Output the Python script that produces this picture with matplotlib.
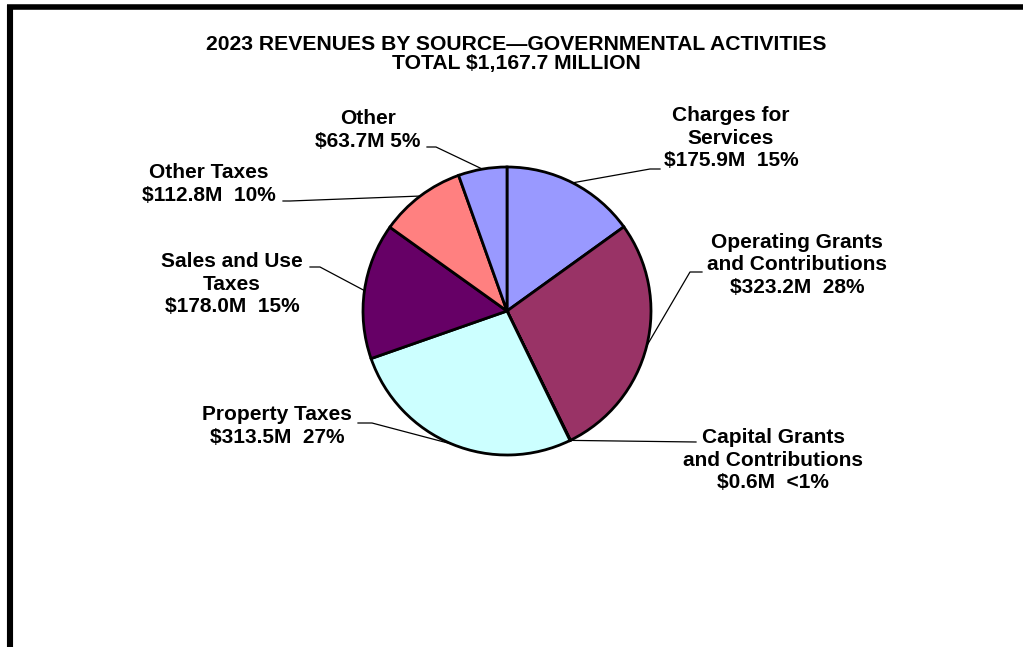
"""Revenues by source, governmental activities, 2023 — pie with leader labels."""
import matplotlib
matplotlib.use("Agg")
import matplotlib.pyplot as plt
import numpy as np

W, H = 1023, 647                      # canvas in pixels; axes units == pixels

SOURCES = ["Charges for\nServices", "Operating Grants\nand Contributions",
           "Capital Grants\nand Contributions", "Property Taxes",
           "Sales and Use\nTaxes", "Other Taxes", "Other"]
AMOUNTS = [175.9, 323.2, 0.6, 313.5, 178.0, 112.8, 63.7]    # $ millions
COLORS = ["#9999FF", "#993366", "#FFFFCC", "#CCFFFF",
          "#660066", "#FF8080", "#9999FF"]
GAP = ["  ", "  ", "  ", "  ", "  ", "  ", " "]              # spacing before the %

# label block centre, elbow point of the leader, end of the short tick
LABEL_XY = [(731, 138), (797, 265), (773, 460), (277, 426),
            (232, 284), (209, 184), (368, 130)]
ELBOW = [(650, 169), (690, 272), (696, 442), (372, 423),
         (320, 267), (290, 201), (436, 147)]
TICK = [(660, 169), (702, 272), (696, 442), (358, 423),
        (310, 267), (283, 201), (427, 147)]

CX, CY, R = 507, 311, 144
FONT = "Liberation Sans"


def pct_text(v, total):
    p = 100 * v / total
    return "<1%" if p < 1 else f"{p:.0f}%"


def main():
    total = sum(AMOUNTS)
    fig = plt.figure(figsize=(W / 100, H / 100), dpi=100)
    ax = fig.add_axes([0, 0, 1, 1])

    # y axis points down, so counterclockwise in data is clockwise on screen
    wedges, _ = ax.pie(AMOUNTS, colors=COLORS, startangle=-90, counterclock=True,
                       center=(CX, CY), radius=R, frame=True,
                       wedgeprops=dict(edgecolor="black", linewidth=2.0))
    ax.set_xlim(0, W)
    ax.set_ylim(H, 0)
    ax.set_aspect("equal")
    ax.axis("off")

    for i, w in enumerate(wedges):
        mid = np.radians((w.theta1 + w.theta2) / 2)
        ex, ey = CX + R * np.cos(mid), CY + R * np.sin(mid)
        ax.plot([ex, ELBOW[i][0], TICK[i][0]], [ey, ELBOW[i][1], TICK[i][1]],
                color="black", lw=0.9, zorder=0.5)
        txt = f"{SOURCES[i]}\n${AMOUNTS[i]:.1f}M{GAP[i]}{pct_text(AMOUNTS[i], total)}"
        ax.text(LABEL_XY[i][0], LABEL_XY[i][1], txt, ha="center", va="center",
                multialignment="center", fontsize=15, fontweight="bold",
                family=FONT, linespacing=1.22)

    ax.text(516, 53.5, "2023 REVENUES BY SOURCE\u2014GOVERNMENTAL ACTIVITIES\n"
            f"TOTAL ${total:,.1f} MILLION", ha="center", va="center",
            multialignment="center", fontsize=15.2, fontweight="bold",
            family=FONT, linespacing=1.0)

    # heavy frame along the top and left edges
    ax.plot([7, W], [6.5, 6.5], color="black", lw=4.0, solid_capstyle="butt")
    ax.plot([10, 10], [4.5, H], color="black", lw=4.4, solid_capstyle="butt")

    fig.savefig("out.png", dpi=100)


if __name__ == "__main__":
    main()
